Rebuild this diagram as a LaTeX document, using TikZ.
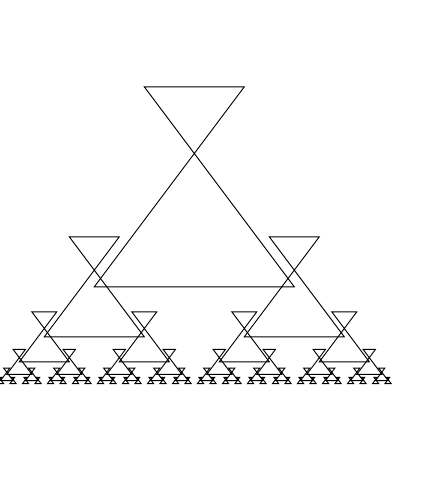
\documentclass[tikz,border=0pt]{standalone}
\usepackage{tikz}
\tikzset{fr/.style={draw=black,line width=0.7pt,line join=miter}}
\newcommand\hgdraw[4]{%
  \draw[fr] ({#1-#3},{#2}) -- ({#1+#3},{#2}) -- ({#1-#3/2},{#2-2*#3}) -- ({#1+#3/2},{#2-2*#3}) -- cycle;
  \ifnum#4>1\relax
    \begingroup
    \pgfmathsetmacro\hgL{#1-#3}%
    \pgfmathsetmacro\hgR{#1+#3}%
    \pgfmathsetmacro\hgY{#2+#3/2}%
    \pgfmathsetmacro\hgH{#3/2}%
    \pgfmathtruncatemacro\hgN{#4-1}%
    \edef\hgnext{\noexpand\hgdraw{\hgL}{\hgY}{\hgH}{\hgN}\noexpand\hgdraw{\hgR}{\hgY}{\hgH}{\hgN}}%
    \hgnext
    \endgroup
  \fi
}
\begin{document}
\begin{tikzpicture}[x=0.75pt,y=-0.75pt]
\useasboundingbox (0,0) rectangle (448,479);
\fill[white] (0,0) rectangle (448,479);
\hgdraw{194.3}{286.8}{100}{6}
\end{tikzpicture}
\end{document}
